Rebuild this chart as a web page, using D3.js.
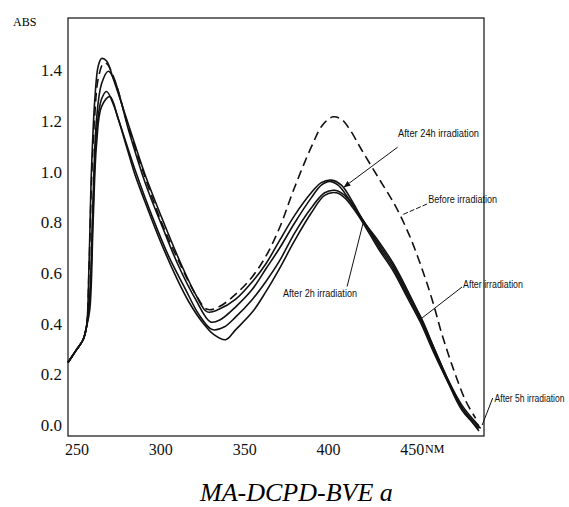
<!DOCTYPE html>
<html>
<head>
<meta charset="utf-8">
<script src="https://cdn.jsdelivr.net/npm/d3@7"></script>
<style>
body{margin:0;background:#fff}
svg{display:block}
.note{font-family:"Liberation Sans Narrow","Liberation Sans",Arial,sans-serif;font-size:11px;fill:#111}
</style>
</head>
<body>
<svg id="chart" width="569" height="507"></svg>
<script>

// spectra, [wavelength nm, absorbance]
const beforeIrr = [[245,0.24],[250,0.29],[254,0.33],[256,0.38],[257.5,0.6],[259,0.95],[261,1.22],[263,1.36],[266,1.42],[268,1.42],[272,1.37],[281,1.17],[291,0.97],[301,0.79],[311,0.64],[321,0.51],[328,0.45],[335,0.46],[345,0.51],[355,0.58],[363,0.66],[371,0.77],[380,0.93],[390,1.09],[397,1.18],[403,1.21],[408,1.20],[413,1.16],[420,1.08],[430,0.97],[440,0.86],[448,0.75],[455,0.63],[462,0.49],[468,0.35],[475,0.21],[482,0.09],[488,0.02]];
const after24h = [[245,0.24],[250,0.29],[254,0.33],[256,0.38],[257.5,0.62],[259,1.0],[261,1.28],[263,1.41],[265,1.44],[268,1.43],[272,1.36],[281,1.18],[291,0.98],[301,0.81],[311,0.65],[321,0.51],[328,0.44],[335,0.45],[345,0.49],[355,0.56],[363,0.63],[371,0.72],[380,0.82],[390,0.91],[396,0.95],[402,0.96],[408,0.94],[415,0.87],[421,0.80],[430,0.72],[439,0.63],[447,0.53],[455,0.42],[463,0.30],[471,0.18],[480,0.07],[490,-0.01]];
const afterIrr = [[245,0.24],[250,0.29],[254,0.33],[256,0.38],[258,0.5],[260,0.9],[262,1.2],[265,1.34],[269,1.39],[273,1.35],[281,1.16],[291,0.95],[301,0.78],[311,0.62],[321,0.49],[330,0.40],[336,0.41],[345,0.46],[355,0.53],[363,0.61],[371,0.69],[380,0.79],[390,0.89],[396,0.94],[401,0.955],[406,0.94],[412,0.89],[421,0.80],[430,0.71],[439,0.62],[447,0.52],[456,0.41],[463,0.30],[471,0.18],[480,0.06],[491,-0.02]];
const after2h = [[245,0.24],[250,0.29],[254,0.33],[256,0.38],[258,0.5],[260,0.85],[262,1.15],[265,1.28],[268,1.31],[272,1.26],[280,1.09],[285,0.98],[290,0.89],[300,0.72],[310,0.57],[317,0.48],[325,0.40],[332,0.35],[339,0.33],[345,0.37],[355,0.44],[363,0.52],[371,0.61],[380,0.72],[390,0.83],[398,0.90],[405,0.91],[410,0.89],[416,0.84],[421,0.79],[430,0.69],[439,0.60],[447,0.50],[455,0.40],[463,0.28],[471,0.17],[480,0.06],[490,-0.03]];
const after5h = [[245,0.24],[250,0.29],[254,0.33],[256,0.38],[258,0.45],[260,0.8],[262,1.1],[265,1.25],[270,1.29],[275,1.20],[285,1.00],[295,0.82],[305,0.66],[315,0.53],[323,0.43],[331,0.37],[338,0.38],[345,0.42],[355,0.49],[363,0.56],[371,0.64],[380,0.75],[390,0.85],[398,0.91],[404,0.92],[410,0.90],[416,0.85],[421,0.80],[430,0.70],[439,0.61],[447,0.51],[455,0.41],[463,0.29],[471,0.17],[480,0.05],[490,-0.02]];

const xTicks = [250, 300, 350, 400, 450];
const yTicks = [0.0, 0.2, 0.4, 0.6, 0.8, 1.0, 1.2, 1.4];
const noteLabels = ["After 24h irradiation", "Before irradiation", "After 2h irradiation", "After irradiation", "After 5h irradiation"];

const serif = '"Liberation Serif", "Times New Roman", serif';

const chart = function(){

    let svg = d3.select('#chart'),
        box = {left: 68, top: 18, right: 484, bottom: 436};

    let xScale = d3.scaleLinear()
                    .domain([245, 493])
                    .range([box.left, box.right]);

    let yScale = d3.scaleLinear()
                    .domain([-0.05, 1.6])
                    .range([box.bottom, box.top]);

    // plain frame round the plot
    svg.append("rect")
        .attr("x", box.left)
        .attr("y", box.top)
        .attr("width", box.right - box.left)
        .attr("height", box.bottom - box.top)
        .style("fill", "none")
        .style("stroke", "#222")
        .style("stroke-width", 1.3);

    let yAxis = d3.axisLeft(yScale)
                    .tickValues(yTicks)
                    .tickSize(0)
                    .tickPadding(6)
                    .tickFormat(d3.format(".1f"));

    let gy = svg.append("g")
        .attr("class", "axis y-axis")
        .attr("transform", `translate(${box.left},0)`)
        .call(yAxis);
    gy.select(".domain").remove();
    gy.selectAll("text")
        .attr("dy", "0.42em")
        .style("font-family", serif)
        .style("font-size", "17px")
        .style("fill", "#111");

    let xAxis = d3.axisBottom(xScale)
                    .tickValues(xTicks)
                    .tickSize(0)
                    .tickPadding(8);

    let gx = svg.append("g")
        .attr("class", "axis x-axis")
        .attr("transform", `translate(0,${box.bottom})`)
        .call(xAxis);
    gx.select(".domain").remove();
    gx.selectAll("text")
        .style("font-family", serif)
        .style("font-size", "16px")
        .style("fill", "#111");

    svg.append("text")
        .attr("x", 13).attr("y", 26)
        .style("font-family", serif)
        .style("font-size", "12px")
        .text("ABS");

    svg.append("text")
        .attr("x", 425).attr("y", 453)
        .style("font-family", serif)
        .style("font-size", "12px")
        .text("NM");

    svg.append("text")
        .attr("x", 200).attr("y", 501)
        .style("font-family", serif)
        .style("font-style", "italic")
        .style("font-size", "26px")
        .text("MA-DCPD-BVE a");

    let line = d3.line()
                .x(d => xScale(d[0]))
                .y(d => yScale(d[1]))
                .curve(d3.curveCatmullRom.alpha(0.5));

    let solid = [after24h, afterIrr, after2h, after5h];
    svg.selectAll("path.spec")
        .data(solid)
        .enter()
        .append("path")
        .attr("class", "spec")
        .attr("d", line)
        .style("fill", "none")
        .style("stroke", "#111")
        .style("stroke-width", 1.6);

    svg.append("path")
        .datum(beforeIrr)
        .attr("d", line)
        .style("fill", "none")
        .style("stroke", "#111")
        .style("stroke-width", 1.6)
        .style("stroke-dasharray", "9,5");

    // leader lines, all in data units: text spot, line start, line end; w = squeezed text width
    let notes = [
        {t: [441.8, 1.13], a: [441.5, 1.09], b: [409.6, 0.933], w: 81, arrow: true},
        {t: [459.7, 0.87], a: [459.1, 0.866], b: [444.2, 0.823], w: 69, dash: true},
        {t: [373.2, 0.50], a: [411.4, 0.54], b: [420.9, 0.79], w: 74},
        {t: [480.5, 0.534], a: [479.9, 0.538], b: [456.1, 0.416], w: 60},
        {t: [499.3, 0.084], a: [498.2, 0.10], b: [491.9, -0.007], w: 70}
    ];

    svg.append("defs").append("marker")
        .attr("id", "head")
        .attr("viewBox", "0 0 10 10")
        .attr("refX", 9).attr("refY", 5)
        .attr("markerWidth", 7).attr("markerHeight", 7)
        .attr("orient", "auto")
        .append("path")
        .attr("d", "M0,1 L10,5 L0,9 Z")
        .style("fill", "#111");

    notes.forEach(function(n, i){
        let l = svg.append("line")
            .attr("x1", xScale(n.a[0])).attr("y1", yScale(n.a[1]))
            .attr("x2", xScale(n.b[0])).attr("y2", yScale(n.b[1]))
            .style("stroke", "#111")
            .style("stroke-width", 1);
        if(n.arrow){ l.attr("marker-end", "url(#head)") }
        if(n.dash){ l.style("stroke-dasharray", "5,2") }

        // the scan uses a narrow face; squeeze the regular one to match
        let txt = svg.append("text")
            .attr("class", "note")
            .text(noteLabels[i]);
        let sx = n.w / txt.node().getComputedTextLength();
        txt.attr("transform", `translate(${xScale(n.t[0])},${yScale(n.t[1])}) scale(${sx},1)`);
    });

}();
</script>
</body>
</html>
